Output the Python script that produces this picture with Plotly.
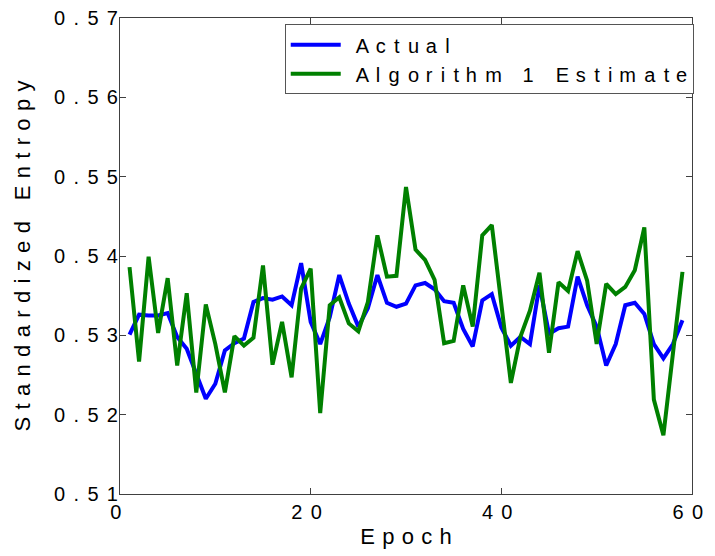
import plotly.graph_objects as go

epochs = list(range(1, 60))

actual = [0.5301, 0.5326, 0.5325, 0.5325, 0.5328, 0.5298, 0.5283, 0.5253, 0.5220, 0.5239,
          0.5281, 0.5290, 0.5296, 0.5342, 0.5347, 0.5345, 0.5349, 0.5338, 0.5391, 0.5317,
          0.5289, 0.5323, 0.5376, 0.5340, 0.5311, 0.5334, 0.5376, 0.5341, 0.5336, 0.5340,
          0.5363, 0.5366, 0.5358, 0.5343, 0.5341, 0.5308, 0.5286, 0.5344, 0.5352, 0.5310,
          0.5287, 0.5298, 0.5289, 0.5363, 0.5302, 0.5309, 0.5311, 0.5374, 0.5338, 0.5311,
          0.5262, 0.5289, 0.5338, 0.5341, 0.5327, 0.5289, 0.5271, 0.5289, 0.5319]

estimate = [0.5386, 0.5267, 0.5399, 0.5303, 0.5372, 0.5262, 0.5353, 0.5228, 0.5339, 0.5289,
            0.5228, 0.5299, 0.5287, 0.5297, 0.5388, 0.5263, 0.5317, 0.5247, 0.5359, 0.5384,
            0.5202, 0.5338, 0.5348, 0.5315, 0.5305, 0.5342, 0.5426, 0.5374, 0.5375, 0.5487,
            0.5408, 0.5395, 0.5370, 0.5290, 0.5293, 0.5363, 0.5311, 0.5426, 0.5439, 0.5340,
            0.5240, 0.5298, 0.5331, 0.5379, 0.5278, 0.5367, 0.5356, 0.5406, 0.5369, 0.5289,
            0.5365, 0.5352, 0.5361, 0.5382, 0.5436, 0.5219, 0.5174, 0.5277, 0.5380]

series_names = ["Actual", "Algorithm 1 Estimate"]
x_ticks = [0, 20, 40, 60]
y_ticks = [0.51, 0.52, 0.53, 0.54, 0.55, 0.56, 0.57]
x_title = "Epoch"
y_title = "Standardized Entropy"

GAP = "\u2004"
TICKGAP = "\u2005\u2006"


def spaced(s, gap=GAP):
    # emulate the wide letter spacing of the original figure
    return gap.join(s)


def leg_spaced(s):
    # slightly wider spacing for the legend entries
    out = s[0]
    for i, ch in enumerate(s[1:]):
        out += GAP + ("\u200a" if i % 3 != 0 else "") + ch
    return out


FONT = "Liberation Sans, Arial, Helvetica, sans-serif"
AX = "#404040"
LEAD = "\u2006\u2004"

fig = go.Figure()
fig.add_trace(go.Scatter(x=epochs, y=actual, mode="lines",
                         name=LEAD + leg_spaced(series_names[0]),
                         line=dict(color="#0000ff", width=4)))
fig.add_trace(go.Scatter(x=epochs, y=estimate, mode="lines",
                         name=LEAD + leg_spaced(series_names[1]),
                         line=dict(color="#008000", width=4)))

fig.update_layout(
    width=715, height=556,
    margin=dict(l=120, r=23, t=18, b=62, autoexpand=False),
    paper_bgcolor="white", plot_bgcolor="white",
    font=dict(family=FONT, size=20, color="black"),
    showlegend=True,
    legend=dict(x=0.288, y=0.987, xanchor="left", yanchor="top",
                bgcolor="white", bordercolor="#555555", borderwidth=1,
                itemwidth=50, font=dict(size=20)),
    xaxis=dict(range=[0, 60], tickvals=x_ticks,
               ticktext=[spaced(str(v), TICKGAP) + TICKGAP for v in x_ticks],
               ticks="inside", ticklen=6, tickcolor=AX, showline=True, linecolor=AX,
               linewidth=1, mirror="allticks", showgrid=False, zeroline=False,
               tickfont=dict(size=20), ticklabelstandoff=0,
               title=dict(text=spaced(x_title) + GAP, standoff=6, font=dict(size=22))),
    yaxis=dict(range=[0.51, 0.57], tickvals=y_ticks,
               ticktext=[spaced(f"{v:.2f}", TICKGAP) for v in y_ticks],
               ticks="inside", ticklen=6, tickcolor=AX, showline=True, linecolor=AX,
               linewidth=1, mirror="allticks", showgrid=False, zeroline=False,
               tickfont=dict(size=20), ticklabelstandoff=-3,
               title=dict(text=spaced(y_title), standoff=17, font=dict(size=22))),
)

fig.write_html("out.html")
